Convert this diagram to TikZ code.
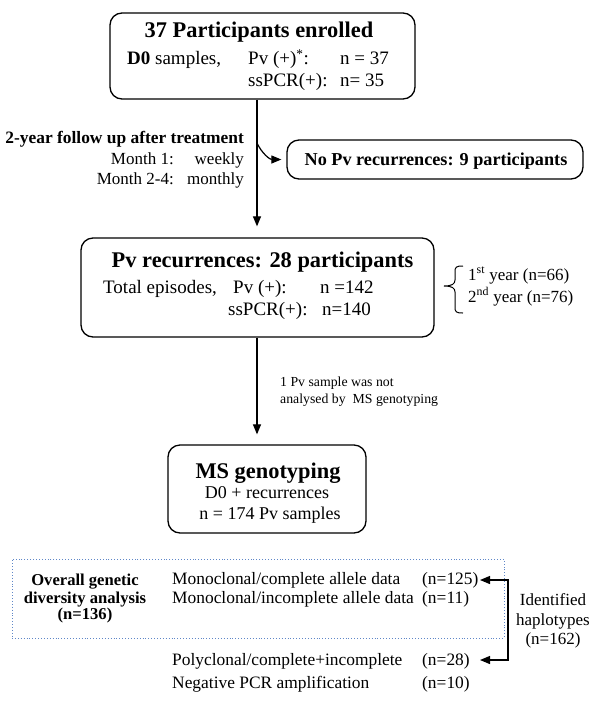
\documentclass[tikz,border=0pt]{standalone}
\usepackage{fontspec}
\setmainfont{Liberation Serif}
\usetikzlibrary{arrows.meta}
\definecolor{dotblue}{RGB}{95,135,200}
\tikzset{
  box/.style={draw, rounded corners=12pt, line width=1.3pt, inner sep=0pt},
  body/.style={font=\fontsize{17.4}{21}\selectfont, inner sep=0pt},
  boxbody/.style={font=\fontsize{19}{22}\selectfont, inner sep=0pt},
  mbody/.style={font=\fontsize{18}{22}\selectfont, inner sep=0pt},
  sbody/.style={font=\fontsize{17}{20}\selectfont, inner sep=0pt},
  bodyb/.style={font=\bfseries\fontsize{17.4}{21}\selectfont, inner sep=0pt},
  ogb/.style={font=\bfseries\fontsize{16.6}{20}\selectfont, inner sep=0pt},
  ttl/.style={font=\bfseries\fontsize{22.4}{26}\selectfont, inner sep=0pt},
  small/.style={font=\fontsize{13.8}{16}\selectfont, inner sep=0pt},
  arr/.style={-{Triangle[length=10pt,width=8pt]}, line width=1.2pt},
  arrtwo/.style={{Triangle[length=10pt,width=8pt]}-{Triangle[length=10pt,width=8pt]}, line width=1.2pt},
}
\begin{document}
\begin{tikzpicture}[x=1pt,y=-1pt]
\useasboundingbox (0,0) rectangle (600,705);

% boxes
\node[box, minimum width=305pt, minimum height=86pt] (b1) at (262.5,56) {};
\node[box, minimum width=296pt, minimum height=39pt] (b0) at (435,159.5) {};
\node[box, minimum width=353pt, minimum height=99pt] (b2) at (257.5,287.5) {};
\node[box, minimum width=198pt, minimum height=88pt] (b3) at (267,489) {};
\node[draw=dotblue, dotted, line width=0.9pt, minimum width=492pt, minimum height=79pt, inner sep=0pt] (db) at (258,598.5) {};

% box 1 text
\node[ttl, anchor=base] (t1) at (259,37.5) {37 Participants enrolled};
\node[boxbody, anchor=base west] (d0) at (127,64.5) {\textbf{D0} samples,};
\node[boxbody, anchor=base west] (pv1) at (248,64.5) {Pv (+)\textsuperscript{*}:};
\node[boxbody, anchor=base west] (n37) at (340,64.5) {n = 37};
\node[boxbody, anchor=base west] (ss1) at (248,86) {ssPCR(+):};
\node[boxbody, anchor=base west] (n35) at (340,86) {n= 35};

% no recurrence box text
\node[font=\bfseries\fontsize{18.2}{22}\selectfont, inner sep=0pt, anchor=base] (t0) at (436,165) {No Pv recurrences: 9 participants};

% follow-up text
\node[bodyb, anchor=base east] (fu) at (244,143) {2-year follow up after treatment};
\node[sbody, anchor=base east] (m1) at (174,164) {Month 1:};
\node[sbody, anchor=base east] (wk) at (244,164) {weekly};
\node[sbody, anchor=base east] (m2) at (174,184) {Month 2-4:};
\node[sbody, anchor=base east] (mo) at (244,184) {monthly};

% box 2 text
\node[ttl, anchor=base] (t2) at (262.5,267) {Pv recurrences: 28 participants};
\node[boxbody, anchor=base west] (te) at (103,293) {Total episodes,};
\node[boxbody, anchor=base west] (pv2) at (233,293) {Pv (+):};
\node[boxbody, anchor=base west] (n142) at (320,293) {n =142};
\node[boxbody, anchor=base west] (ss2) at (228,315) {ssPCR(+):};
\node[boxbody, anchor=base west] (n140) at (322,315) {n=140};

% bracket text
\node[sbody, anchor=base west] (y1) at (468,280) {1\textsuperscript{st} year (n=66)};
\node[sbody, anchor=base west] (y2) at (468,302) {2\textsuperscript{nd} year (n=76)};
\draw[line width=1pt] (463,266) .. controls (456,266) and (455,267) .. (455,272) -- (455,280)
  .. controls (455,284) and (452,286) .. (444,286)
  .. controls (452,286) and (455,288) .. (455,292) -- (455,307)
  .. controls (455,312) and (456,313) .. (463,313);

% label on second arrow
\node[small, anchor=base west] (l1) at (280,386) {1 Pv sample was not};
\node[small, anchor=base west] (l2) at (280,403) {analysed by~ MS genotyping};

% box 3 text
\node[ttl, anchor=base] (t3) at (268,478) {MS genotyping};
\node[mbody, anchor=base] (d0r) at (267,498) {D0 + recurrences};
\node[mbody, anchor=base] (n174) at (270,519) {n = 174 Pv samples};

% dotted box text
\node[ogb, anchor=base] (og) at (85,585) {Overall genetic};
\node[ogb, anchor=base] (da) at (85,603) {diversity analysis};
\node[ogb, anchor=base] (n136) at (85,619) {(n=136)};
\node[body, anchor=base west] (mc) at (172,584.5) {Monoclonal/complete allele data};
\node[body, anchor=base west] (n125) at (422,584.5) {(n=125)};
\node[body, anchor=base west] (mi) at (172,603) {Monoclonal/incomplete allele data};
\node[body, anchor=base west] (n11) at (422,603) {(n=11)};
\node[body, anchor=base west] (pc) at (172,665) {Polyclonal/complete+incomplete};
\node[body, anchor=base west] (n28) at (422,665) {(n=28)};
\node[body, anchor=base west] (np) at (172,688) {Negative PCR amplification};
\node[body, anchor=base west] (n10) at (422,688) {(n=10)};
\node[sbody, anchor=base] (idh) at (553,605) {Identified};
\node[sbody, anchor=base] (hap) at (553,625) {haplotypes};
\node[sbody, anchor=base] (n162) at (553,644) {(n=162)};

% connectors
\coordinate (br) at (257,143);
\draw[arr, shorten >=11pt] (b1.south -| br) -- (b2.north -| br);
\draw[arr] (br) to[out=-65,in=180] ([xshift=-5pt]b0.west);
\draw[arr, shorten >=10pt] (b2.south -| br) -- (b3.north -| br);

\coordinate (tipx) at (480,0);
\coordinate (hv) at (508,0);
\coordinate (ya) at (0,580);
\coordinate (yb) at (0,660);
\draw[arrtwo] (tipx |- ya) -- (hv |- ya) -- (hv |- yb) -- (tipx |- yb);
\end{tikzpicture}
\end{document}
